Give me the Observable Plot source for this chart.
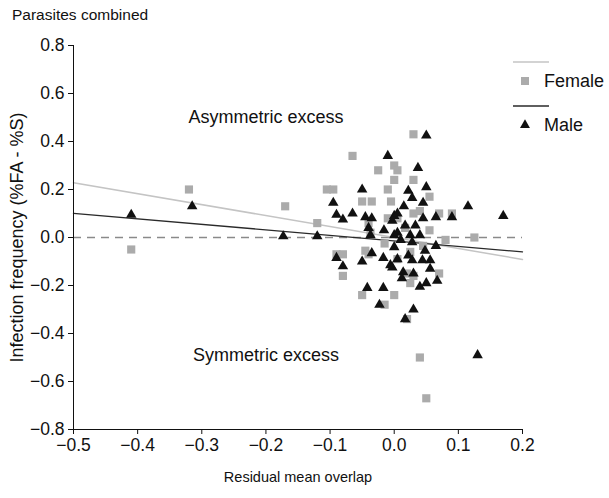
<!DOCTYPE html>
<html><head><meta charset="utf-8">
<script src="https://cdn.jsdelivr.net/npm/d3@7"></script>
<script src="https://cdn.jsdelivr.net/npm/@observablehq/plot@0.6"></script>
<style>
body{margin:0;background:#fff;font-family:"Liberation Sans",Arial,sans-serif;}
#wrap{position:relative;width:609px;height:498px;}
#title{position:absolute;left:12px;top:6px;font-size:15.5px;color:#111;}
#legend{position:absolute;left:0;top:0;}
</style></head><body>
<div id="wrap"><div id="title">Parasites combined</div></div>
<script>
const femaleX = [-0.41, -0.32, -0.17, -0.12, 0.125, 0.04, 0.05, 0.03, -0.065, -0.025, 0.0, 0.005, 0.0, 0.03, -0.095, -0.105, -0.01, -0.05, -0.035, -0.005, 0.03, 0.055, 0.04, 0.07, 0.09, 0.005, -0.01, -0.04, -0.015, -0.08, -0.08, -0.045, 0.005, 0.02, 0.03, -0.05, 0.0, -0.015, 0.02, 0.07, 0.025, 0.045, 0.025, -0.09, -0.04, 0.017, 0.055, 0.08, -0.037];
const femaleY = [-0.05, 0.20, 0.13, 0.06, 0.00, -0.50, -0.67, 0.43, 0.34, 0.28, 0.30, 0.28, 0.24, 0.24, 0.20, 0.20, 0.20, 0.15, 0.15, 0.15, 0.10, 0.17, 0.11, 0.10, 0.10, 0.08, 0.08, 0.06, -0.025, -0.07, -0.16, -0.055, -0.09, -0.15, -0.16, -0.24, -0.24, -0.28, -0.34, -0.15, -0.19, -0.035, -0.06, -0.07, -0.07, 0.04, 0.03, -0.01, 0.02];
const maleX = [-0.41, -0.315, -0.173, -0.12, -0.01, 0.05, 0.037, 0.05, -0.05, -0.095, -0.09, -0.065, -0.08, 0.028, 0.045, 0.015, 0.065, 0.09, 0.115, 0.17, 0.045, 0.0, 0.005, -0.045, -0.035, -0.04, -0.037, -0.003, 0.0, 0.0, 0.025, 0.04, 0.065, 0.005, -0.09, -0.08, -0.05, -0.035, -0.017, -0.006, 0.005, 0.022, 0.028, 0.044, 0.056, -0.003, 0.014, 0.03, 0.012, 0.056, 0.067, 0.04, 0.05, -0.042, -0.017, -0.023, 0.03, 0.017, 0.13, 0.022, 0.033, 0.017, 0.01, 0.028, 0.048, -0.016];
const maleY = [0.095, 0.13, 0.005, 0.005, 0.34, 0.425, 0.29, 0.21, 0.20, 0.145, 0.095, 0.10, 0.075, 0.165, 0.145, 0.13, 0.085, 0.085, 0.13, 0.09, 0.08, 0.09, 0.10, 0.085, 0.08, 0.04, 0.01, 0.07, 0.01, -0.04, 0.01, 0.01, -0.035, 0.02, -0.085, -0.12, -0.10, -0.065, -0.085, -0.115, -0.09, -0.075, -0.095, -0.095, -0.095, -0.125, -0.145, -0.15, -0.17, -0.13, -0.18, -0.205, -0.19, -0.21, -0.21, -0.28, -0.30, -0.34, -0.49, 0.195, 0.05, 0.05, -0.01, -0.02, -0.055, 0.03];
// fitted regression lines (intercept, slope)
const femaleFit = [0.0, -0.457];
const maleFit = [-0.014, -0.229];
const xTicks = [-0.5, -0.4, -0.3, -0.2, -0.1, 0.0, 0.1, 0.2];
const yTicks = [-0.8, -0.6, -0.4, -0.2, 0.0, 0.2, 0.4, 0.6, 0.8];
const annotLabels = ["Asymmetric excess", "Symmetric excess"];
const annotX = [-0.2, -0.2];
const annotY = [0.5, -0.49];
const legendLabels = ["Female", "Male"];

const female = femaleX.map((x, i) => ({x, y: femaleY[i]}));
const male = maleX.map((x, i) => ({x, y: maleY[i]}));
const xDom = [xTicks[0], xTicks[xTicks.length - 1]];
const fitLine = (f) => xDom.map(x => ({x, y: f[0] + f[1] * x}));
const annots = annotLabels.map((t, i) => ({t, x: annotX[i], y: annotY[i]}));

const fmt = d3.format(".1f");
const chart = Plot.plot({
  width: 609, height: 498,
  marginLeft: 73, marginRight: 87, marginTop: 45, marginBottom: 69,
  style: {fontFamily: "'Liberation Sans', Arial, sans-serif", fontSize: "14px", background: "white", color: "#111"},
  x: {domain: xDom},
  y: {domain: [yTicks[0], yTicks[yTicks.length - 1]]},
  marks: [
    Plot.ruleY([0], {x1: xDom[0], x2: xDom[1], stroke: "#8a8a8a", strokeWidth: 1.3, strokeDasharray: "8,6"}),
    Plot.line(fitLine(femaleFit), {x: "x", y: "y", stroke: "#c4c4c4", strokeWidth: 1.5}),
    Plot.line(fitLine(maleFit), {x: "x", y: "y", stroke: "#2a2a2a", strokeWidth: 1.3}),
    Plot.dot(female, {x: "x", y: "y", symbol: "square", r: 4.6, fill: "#ababab", stroke: "none"}),
    Plot.dot(male, {x: "x", y: "y", symbol: "triangle", r: 3.9, fill: "#111", stroke: "none"}),
    Plot.text(annots, {x: "x", y: "y", text: "t", fontSize: 18, fill: "#111"}),
    Plot.ruleX([xDom[0]], {stroke: "#111"}),
    Plot.ruleY([yTicks[0]], {stroke: "#111"}),
    Plot.axisX({ticks: xTicks, tickFormat: fmt, tickSize: 5, tickPadding: 4, fontSize: 17.5,
      label: null}),
    Plot.axisY({ticks: yTicks, tickFormat: fmt, tickSize: 5, tickPadding: 4, fontSize: 17.5,
      label: null}),
    Plot.axisX({ticks: [], label: "Residual mean overlap", labelAnchor: "center", labelArrow: "none", labelOffset: 52, fontSize: 14.5}),
    Plot.axisY({ticks: [], label: "Infection frequency (%FA - %S)", labelAnchor: "center", labelArrow: "none", labelOffset: 63, fontSize: 18})
  ]
});
const wrap = document.getElementById("wrap");
wrap.prepend(chart);

// legend overlay
const lg = d3.select(wrap).append("svg").attr("id", "legend").attr("width", 609).attr("height", 498)
  .style("font-family", "'Liberation Sans', Arial, sans-serif").style("font-size", "18px");
const items = [
  {label: legendLabels[0], stroke: "#c4c4c4", sym: d3.symbolSquare, size: Math.PI * 4.5 * 4.5, fill: "#ababab"},
  {label: legendLabels[1], stroke: "#2a2a2a", sym: d3.symbolTriangle, size: Math.PI * 3.7 * 3.7, fill: "#111"}
];
items.forEach((it, i) => {
  const y0 = 62 + i * 44;
  lg.append("line").attr("x1", 513).attr("x2", 549).attr("y1", y0).attr("y2", y0).attr("stroke", it.stroke).attr("stroke-width", 1.5);
  lg.append("path").attr("d", d3.symbol(it.sym, it.size)()).attr("transform", `translate(525,${y0 + 19})`).attr("fill", it.fill);
  lg.append("text").attr("x", 544).attr("y", y0 + 19).attr("dy", "0.35em").attr("fill", "#111").text(it.label);
});
</script>
</body></html>
